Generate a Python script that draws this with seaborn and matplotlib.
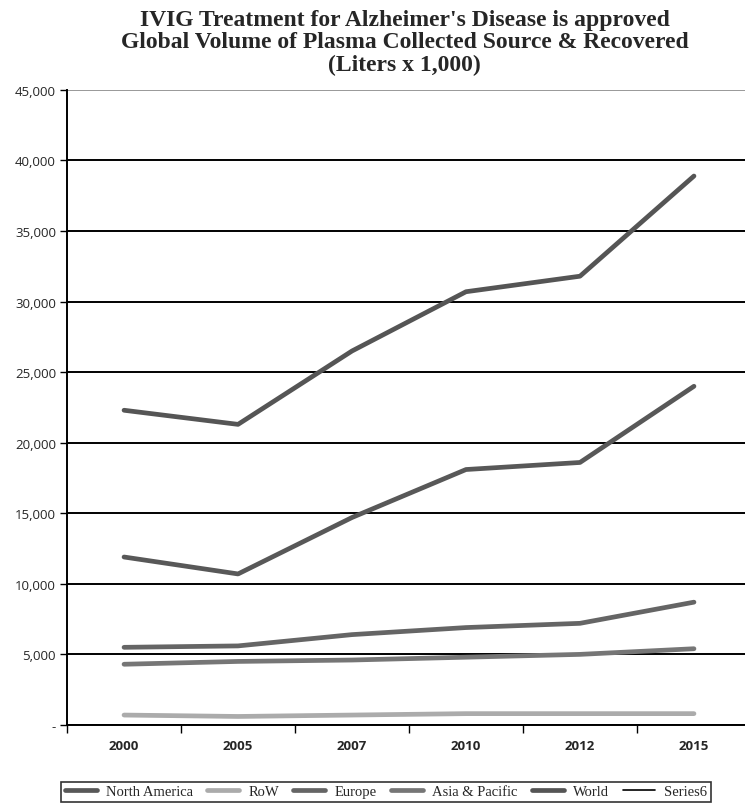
import numpy as np
import pandas as pd
import matplotlib.pyplot as plt
import seaborn as sns
from matplotlib.lines import Line2D
from matplotlib.ticker import FuncFormatter

# ---------------------------------------------------------------------------
# Data (liters x 1,000)
# ---------------------------------------------------------------------------

years = ["2000", "2005", "2007", "2010", "2012", "2015"]
north_america = [11900, 10700, 14700, 18100, 18600, 24000]
row = [700, 600, 700, 800, 800, 800]
europe = [5500, 5600, 6400, 6900, 7200, 8700]
asia_pacific = [4300, 4500, 4600, 4800, 5000, 5400]
world = [22300, 21300, 26500, 30700, 31800, 38900]

series_names = ["North America", "RoW", "Europe", "Asia & Pacific", "World", "Series6"]
colors = {
    "North America": "#585858",
    "RoW": "#ababab",
    "Europe": "#656565",
    "Asia & Pacific": "#767676",
    "World": "#555555",
    "Series6": "#000000",
}

title = ("IVIG Treatment for Alzheimer's Disease is approved\n"
         "Global Volume of Plasma Collected Source & Recovered\n"
         "(Liters x 1,000)")

# ---------------------------------------------------------------------------
# Build long table
# ---------------------------------------------------------------------------

values = {
    "North America": north_america,
    "RoW": row,
    "Europe": europe,
    "Asia & Pacific": asia_pacific,
    "World": world,
}
df = pd.DataFrame(
    [(name, yr, v) for name, vals in values.items() for yr, v in zip(years, vals)],
    columns=["Region", "Year", "Volume"],
)

sns.set_theme(style="white")
plt.rcParams["font.family"] = ["Liberation Serif", "DejaVu Serif"]

fig = plt.figure(figsize=(7.45, 8.12), dpi=100)
ax = fig.add_axes([0.09, 0.106, 0.918, 0.782])

sns.lineplot(data=df, x="Year", y="Volume", hue="Region",
             hue_order=list(values.keys()), palette=colors,
             lw=3.4, legend=False, sort=False, ax=ax)

ax.set_xlim(-0.5, len(years) - 0.5)
ax.set_ylim(0, 45000)
ax.set_yticks(np.arange(0, 45001, 5000))
ax.yaxis.set_major_formatter(FuncFormatter(lambda v, p: "-" if v == 0 else f"{v:,.0f}"))

# gridlines
ax.yaxis.grid(True, color="black", lw=1.4)
ax.xaxis.grid(False)
ax.get_ygridlines()[-1].set_color("#999999")
ax.set_axisbelow(True)

for side in ["top", "right"]:
    ax.spines[side].set_visible(False)
for side in ["left", "bottom"]:
    ax.spines[side].set_color("black")
    ax.spines[side].set_linewidth(1.4)

ax.tick_params(axis="y", direction="out", length=5, width=1, color="black",
               left=True, pad=3)
for lbl in ax.get_yticklabels():
    lbl.set_fontfamily(["Open Sans", "DejaVu Sans"])
    lbl.set_fontsize(9.5)

ax.set_xticks(range(len(years)))
ax.set_xticklabels(years, fontweight="bold", fontsize=9.5,
                   fontfamily=["Open Sans", "DejaVu Sans"])
ax.tick_params(axis="x", which="major", length=0, pad=10)
ax.set_xticks(np.arange(-0.5, len(years), 1), minor=True)
ax.tick_params(axis="x", which="minor", direction="out", length=6, width=1,
               color="black", bottom=True)
ax.set_xlabel("")
ax.set_ylabel("")

fig.text(0.543, 0.988, title, ha="center", va="top", fontsize=17,
         fontweight="bold", linespacing=1.1)

handles = [Line2D([], [], color=colors[n], lw=1.2 if n == "Series6" else 3.4)
           for n in series_names]
leg = fig.legend(handles, series_names, loc="lower center",
                 bbox_to_anchor=(0.518, 0.002), ncol=6, frameon=True,
                 fancybox=False, edgecolor="black", fontsize=10.5,
                 handlelength=2.2, columnspacing=1.0, handletextpad=0.6,
                 borderpad=0.25)
leg.get_frame().set_linewidth(1.2)

fig.savefig("out.png", dpi=100)
